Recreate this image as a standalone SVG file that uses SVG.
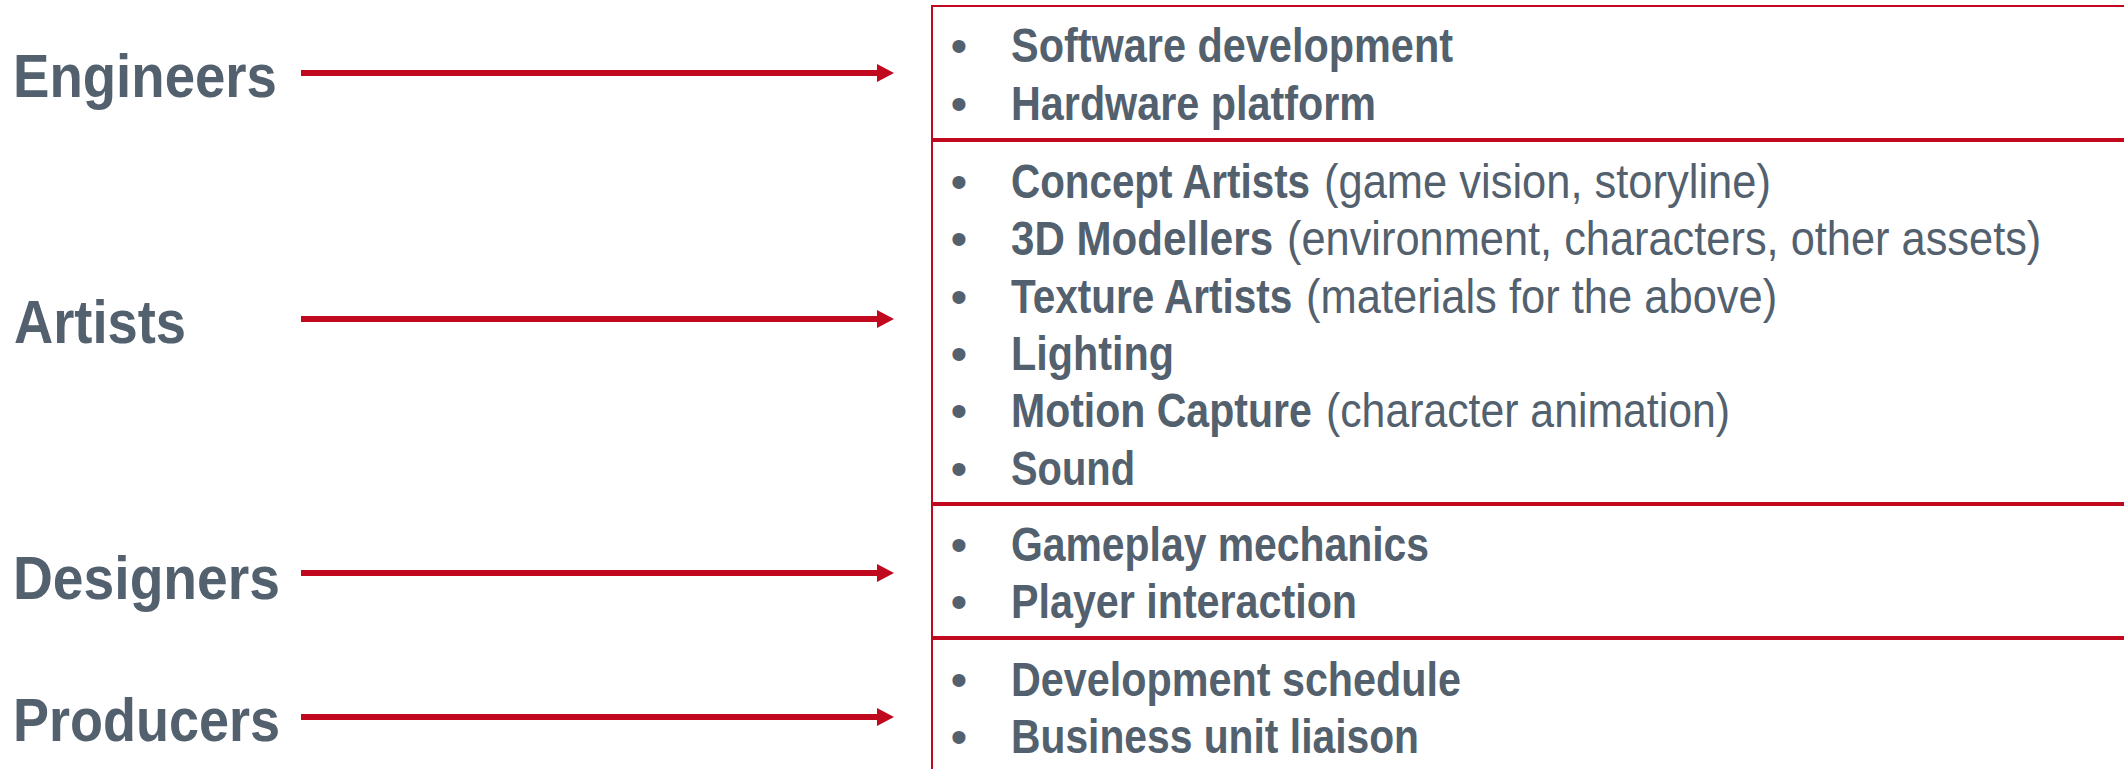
<svg xmlns="http://www.w3.org/2000/svg" width="2124" height="769" viewBox="0 0 2124 769">
<style>
.lbl{font-family:"Liberation Sans Narrow","Liberation Sans",Arial,sans-serif;font-weight:bold;font-size:62px;fill:#53606E}
.it{font-family:"Liberation Sans Narrow","Liberation Sans",Arial,sans-serif;font-weight:bold;font-size:48px;fill:#53606E}
.rg{font-family:"Liberation Sans Narrow","Liberation Sans",Arial,sans-serif;font-weight:normal;font-size:48px;fill:#53606E}
.bul{font-family:"Liberation Sans",Arial,sans-serif;font-size:48px;fill:#53606E;text-anchor:middle}
.box{fill:#fff;stroke:#C0091E;stroke-width:2}
.arr{stroke:#C0091E;stroke-width:6;fill:none}
</style>
<defs>
<marker id="ah" viewBox="0 0 17 18" markerWidth="17" markerHeight="18" refX="0" refY="9" markerUnits="userSpaceOnUse" orient="auto">
<path d="M0,0 L17,9 L0,18 Z" fill="#C0091E"/>
</marker>
</defs>
<rect width="2124" height="769" fill="#fff"/>

<g id="engineers">
<text class="lbl" x="13" y="97" textLength="264" lengthAdjust="spacingAndGlyphs">Engineers</text>
</g>
<g id="artists">
<text class="lbl" x="14" y="343" textLength="172" lengthAdjust="spacingAndGlyphs">Artists</text>
</g>
<g id="designers">
<text class="lbl" x="13" y="599" textLength="267" lengthAdjust="spacingAndGlyphs">Designers</text>
</g>
<g id="producers">
<text class="lbl" x="13" y="741" textLength="267" lengthAdjust="spacingAndGlyphs">Producers</text>
</g>

<g id="box-engineers">
<rect class="box" x="932" y="6" width="1200" height="133"/>
<text class="bul" x="959" y="62">•</text>
<text class="bul" x="959" y="120">•</text>
<text class="it" x="1011" y="62" textLength="442" lengthAdjust="spacingAndGlyphs">Software development</text>
<text class="it" x="1011" y="120" textLength="365" lengthAdjust="spacingAndGlyphs">Hardware platform</text>
</g>

<g id="box-artists">
<rect class="box" x="932" y="141" width="1200" height="362"/>
<text class="bul" x="959" y="198">•</text>
<text class="bul" x="959" y="255">•</text>
<text class="bul" x="959" y="313">•</text>
<text class="bul" x="959" y="370">•</text>
<text class="bul" x="959" y="427">•</text>
<text class="bul" x="959" y="485">•</text>
<text class="it" transform="matrix(0.84 0 0 1 1011 198)" textLength="356" lengthAdjust="spacingAndGlyphs">Concept Artists</text>
<text class="rg" transform="matrix(0.84 0 0 1 1324 198)" textLength="532" lengthAdjust="spacingAndGlyphs">(game vision, storyline)</text>
<text class="it" transform="matrix(0.84 0 0 1 1011 255)" textLength="312" lengthAdjust="spacingAndGlyphs">3D Modellers</text>
<text class="rg" transform="matrix(0.84 0 0 1 1287 255)" textLength="898" lengthAdjust="spacingAndGlyphs">(environment, characters, other assets)</text>
<text class="it" transform="matrix(0.84 0 0 1 1011 313)" textLength="335" lengthAdjust="spacingAndGlyphs">Texture Artists</text>
<text class="rg" transform="matrix(0.84 0 0 1 1306 313)" textLength="561" lengthAdjust="spacingAndGlyphs">(materials for the above)</text>
<text class="it" x="1011" y="370" textLength="163" lengthAdjust="spacingAndGlyphs">Lighting</text>
<text class="it" transform="matrix(0.84 0 0 1 1011 427)" textLength="358" lengthAdjust="spacingAndGlyphs">Motion Capture</text>
<text class="rg" transform="matrix(0.84 0 0 1 1326 427)" textLength="481" lengthAdjust="spacingAndGlyphs">(character animation)</text>
<text class="it" x="1011" y="485" textLength="124" lengthAdjust="spacingAndGlyphs">Sound</text>
</g>

<g id="box-designers">
<rect class="box" x="932" y="505" width="1200" height="132"/>
<text class="bul" x="959" y="561">•</text>
<text class="bul" x="959" y="618">•</text>
<text class="it" x="1011" y="561" textLength="418" lengthAdjust="spacingAndGlyphs">Gameplay mechanics</text>
<text class="it" x="1011" y="618" textLength="346" lengthAdjust="spacingAndGlyphs">Player interaction</text>
</g>

<g id="box-producers">
<rect class="box" x="932" y="639" width="1200" height="140"/>
<text class="bul" x="959" y="696">•</text>
<text class="bul" x="959" y="753">•</text>
<text class="it" x="1011" y="696" textLength="450" lengthAdjust="spacingAndGlyphs">Development schedule</text>
<text class="it" x="1011" y="753" textLength="408" lengthAdjust="spacingAndGlyphs">Business unit liaison</text>
</g>

<g id="connectors">
<line class="arr" x1="301" y1="73" x2="877" y2="73" marker-end="url(#ah)"/>
<line class="arr" x1="301" y1="319" x2="877" y2="319" marker-end="url(#ah)"/>
<line class="arr" x1="301" y1="573" x2="877" y2="573" marker-end="url(#ah)"/>
<line class="arr" x1="301" y1="717" x2="877" y2="717" marker-end="url(#ah)"/>
</g>
</svg>
